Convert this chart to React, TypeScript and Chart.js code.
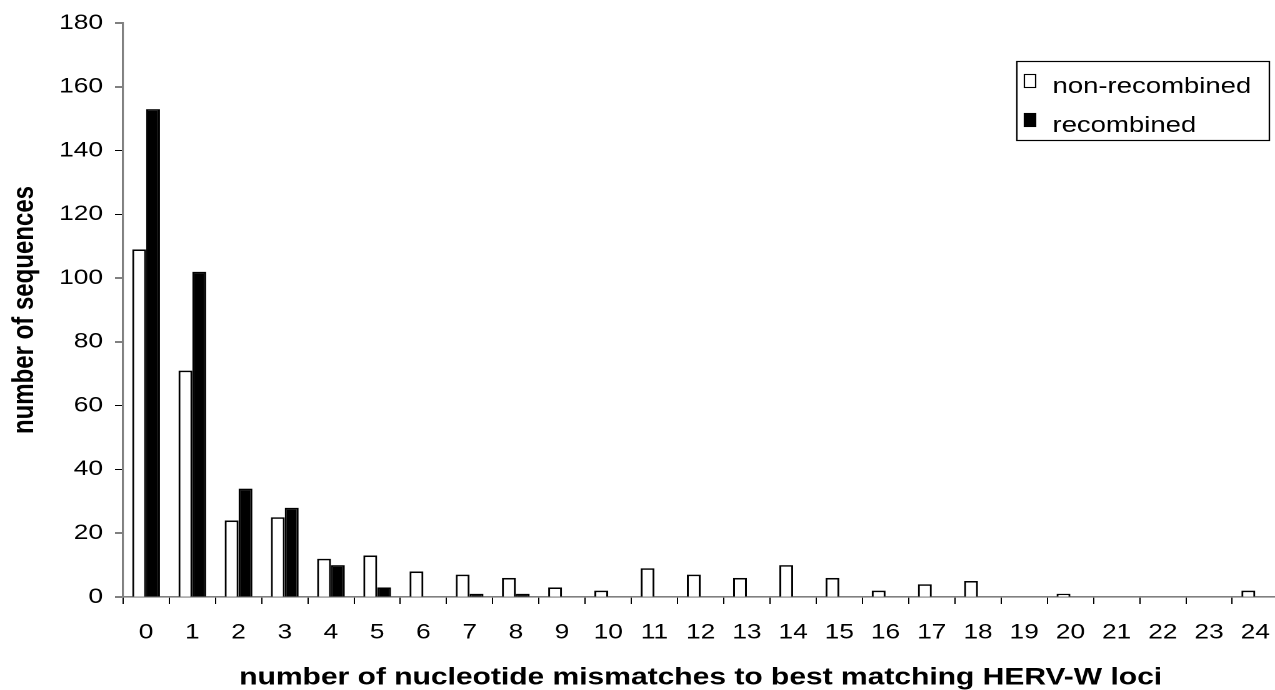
import React, { useEffect, useRef } from "react";
import { Chart, registerables } from "chart.js";

Chart.register(...registerables);

const categories = [
  "0", "1", "2", "3", "4", "5", "6", "7", "8", "9", "10", "11", "12",
  "13", "14", "15", "16", "17", "18", "19", "20", "21", "22", "23", "24",
];
const nonRecombined = [109, 71, 24, 25, 12, 13, 8, 7, 6, 3, 2, 9, 7, 6, 10, 6, 2, 4, 5, 0, 1, 0, 0, 0, 2];
const recombined = [153, 102, 34, 28, 10, 3, 0, 1, 1, 0, 0, 0, 0, 0, 0, 0, 0, 0, 0, 0, 0, 0, 0, 0, 0];
const seriesLabels = ["non-recombined", "recombined"];
const yMin = 0;
const yMax = 180;
const yStep = 20;
const xTitle = "number of nucleotide mismatches to best matching HERV-W loci";
const yTitle = "number of sequences";

const STRETCH = 1.25;
const DISPLAY_W = 1290;
const H = 690;
const INNER_W = Math.round(DISPLAY_W / STRETCH);
const FONT = "'Liberation Sans', Arial, Helvetica, sans-serif";
const AXIS_GREY = "#808080";

const boxLegend = {
  id: "boxLegend",
  afterDraw(chart: any) {
    const ctx = chart.ctx;
    ctx.save();
    const x0 = 813.5;
    const y0 = 61.5;
    const w = 202;
    const h = 79;
    ctx.strokeStyle = "#000";
    ctx.lineWidth = 1.2;
    ctx.strokeRect(x0, y0, w, h);
    const baselines = [93, 132];
    chart.data.datasets.forEach((ds: any, i: number) => {
      const base = baselines[i];
      ctx.fillStyle = ds.backgroundColor;
      ctx.fillRect(819.5, base - 18.5, 9, 13);
      ctx.strokeStyle = "#000";
      ctx.lineWidth = 1.1;
      ctx.strokeRect(819.5, base - 18.5, 9, 13);
      ctx.fillStyle = "#000";
      ctx.font = `22px ${FONT}`;
      ctx.textAlign = "left";
      ctx.textBaseline = "alphabetic";
      ctx.fillText(ds.label, 842, base);
    });
    ctx.restore();
  },
};

const yTitlePlugin = {
  id: "yTitlePlugin",
  afterDraw(chart: any) {
    const ctx = chart.ctx;
    const area = chart.chartArea;
    ctx.save();
    ctx.translate(20, (area.top + area.bottom) / 2);
    ctx.rotate(-Math.PI / 2);
    ctx.fillStyle = "#000";
    ctx.font = `bold 24px ${FONT}`;
    ctx.textAlign = "center";
    ctx.textBaseline = "middle";
    ctx.fillText(yTitle, 0, 0);
    ctx.restore();
  },
};

export default function App() {
  const ref = useRef<HTMLCanvasElement | null>(null);

  useEffect(() => {
    if (!ref.current) return;
    const chart = new Chart(ref.current, {
      type: "bar",
      data: {
        labels: categories,
        datasets: [
          {
            label: seriesLabels[0],
            data: nonRecombined,
            backgroundColor: "#ffffff",
            borderColor: "#000000",
            borderWidth: 1.6,
            categoryPercentage: 0.6,
            barPercentage: 1.0,
          },
          {
            label: seriesLabels[1],
            data: recombined,
            backgroundColor: "#000000",
            borderColor: "#000000",
            borderWidth: 1.6,
            categoryPercentage: 0.6,
            barPercentage: 1.0,
          },
        ],
      },
      options: {
        responsive: false,
        animation: false,
        devicePixelRatio: 2,
        layout: { padding: { top: 23, right: 5.6, bottom: 0, left: 0 } },
        plugins: {
          legend: { display: false },
          tooltip: { enabled: false },
          title: { display: false },
        },
        scales: {
          x: {
            offset: true,
            grid: {
              offset: true,
              drawOnChartArea: false,
              drawTicks: true,
              tickLength: 7,
              color: "#000",
              lineWidth: 1,
            },
            border: { color: AXIS_GREY, width: 1.6 },
            ticks: {
              color: "#000",
              padding: 16,
              font: { family: FONT, size: 21 },
              maxRotation: 0,
              autoSkip: false,
            },
            title: {
              display: true,
              text: xTitle,
              color: "#000",
              font: { family: FONT, size: 24, weight: "bold", lineHeight: 1 },
              padding: { top: 0, bottom: 0 },
            },
            afterFit: (scale: any) => {
              scale.height = H - 597;
            },
          },
          y: {
            min: yMin,
            max: yMax,
            grid: {
              drawOnChartArea: false,
              drawTicks: true,
              tickLength: 6.4,
              color: "#000",
              lineWidth: 1,
            },
            border: { color: AXIS_GREY, width: 1.6 },
            ticks: {
              stepSize: yStep,
              color: "#000",
              padding: 9.6,
              font: { family: FONT, size: 21 },
            },
            title: { display: false },
            afterFit: (scale: any) => {
              scale.width = 98.4;
            },
          },
        },
      },
      plugins: [boxLegend, yTitlePlugin],
    });
    return () => chart.destroy();
  }, []);

  return (
    <div
      style={{
        position: "fixed",
        left: 0,
        top: 0,
        width: "1275px",
        height: H + "px",
        overflow: "hidden",
        background: "#fff",
      }}
    >
      <canvas
        ref={ref}
        width={INNER_W}
        height={H}
        style={{ width: DISPLAY_W + "px", height: H + "px", display: "block" }}
      />
    </div>
  );
}
